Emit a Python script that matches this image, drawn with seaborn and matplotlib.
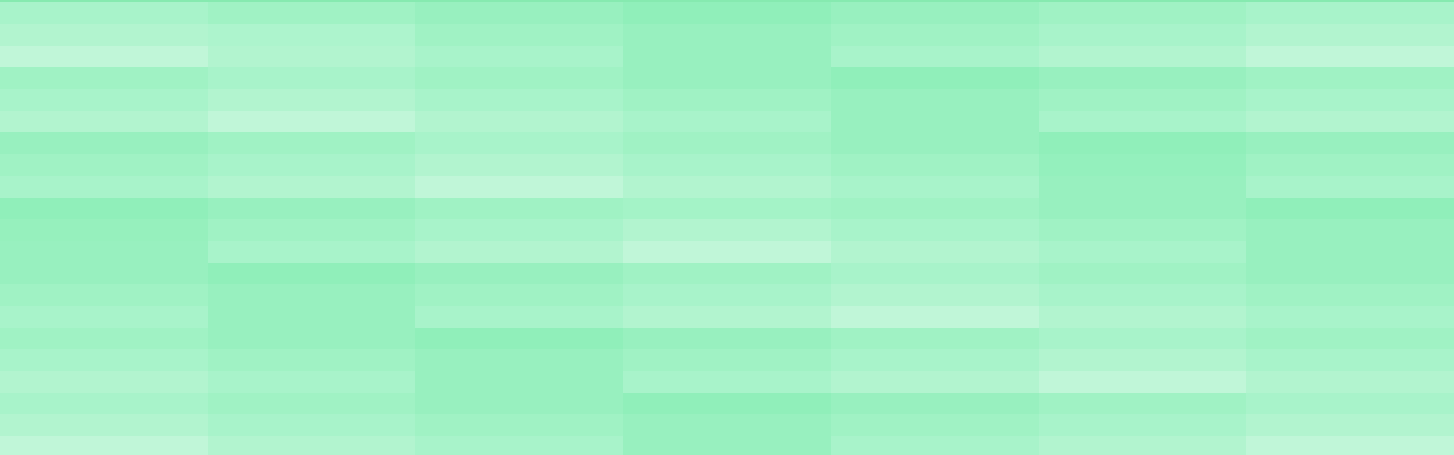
import matplotlib
matplotlib.use("Agg")
import matplotlib.pyplot as plt
import pandas as pd
import seaborn as sns
from matplotlib.colors import LinearSegmentedColormap

# shade level of every cell, 0 = darkest green, 6 = palest
columns = ["c1", "c2", "c3", "c4", "c5", "c6", "c7"]
row_0 = [0, 0, 0, 0, 0, 0, 0]
row_1 = [4, 3, 2, 1, 2, 3, 4]
row_2 = [5, 4.5, 3, 2, 3, 4, 5]
row_3 = [6, 5, 4, 2, 4, 5, 6]
row_4 = [3, 4, 3, 2, 1, 2, 3]
row_5 = [4, 5, 4, 3, 2, 3, 4]
row_6 = [5, 6, 5, 4, 2, 4, 5]
row_7 = [2, 3, 4, 3, 2, 1, 2]
row_8 = [3, 4, 5, 4, 3, 1.5, 3]
row_9 = [4, 5, 6, 5, 4, 2, 4]
row_10 = [1, 2, 3, 3.5, 3, 2, 1]
row_11 = [1.7, 3, 4, 5, 4, 3, 2]
row_12 = [2, 4, 5, 6, 5, 4, 2]
row_13 = [2, 1, 2, 3, 4, 3, 2]
row_14 = [3, 2, 3, 4, 5, 4, 3]
row_15 = [4, 2, 4, 5, 6, 5, 4]
row_16 = [3, 2, 1, 2, 3, 4, 3]
row_17 = [4, 3, 2, 3, 4, 5, 4]
row_18 = [5, 4, 2, 4, 5, 6, 5]
row_19 = [4, 3, 2, 1, 2, 3, 4]
row_20 = [5, 4, 3, 2, 3, 4, 5]
row_21 = [6, 5, 4, 2, 4, 5, 6]

rows = [row_0, row_1, row_2, row_3, row_4, row_5, row_6, row_7, row_8, row_9,
        row_10, row_11, row_12, row_13, row_14, row_15, row_16, row_17,
        row_18, row_19, row_20, row_21]
data = pd.DataFrame(rows, columns=columns)

shades = ["#86eab0", "#90efba", "#98f0bf", "#a0f2c4", "#a8f3ca", "#b2f4cf", "#c0f6d8"]
cmap = LinearSegmentedColormap.from_list("mint", shades)

fig = plt.figure(figsize=(14.54, 4.56), dpi=100)
# the chart is cropped: only the last 3px of the first row are visible
row_h = 21.68
first_full = 3.4
top_px = first_full - row_h
bottom_px = first_full + 21 * row_h
ax = fig.add_axes([0, 1 - bottom_px / 456, 1, (bottom_px - top_px) / 456])

sns.heatmap(data, cmap=cmap, vmin=0, vmax=6, cbar=False, ax=ax,
            xticklabels=False, yticklabels=False, linewidths=0)
ax.set_axis_off()

fig.savefig("out.png", dpi=100)
